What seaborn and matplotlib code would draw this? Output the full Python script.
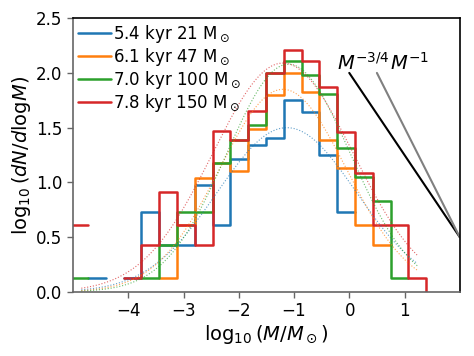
import numpy as np
import pandas as pd
import matplotlib
matplotlib.use("Agg")
import matplotlib.pyplot as plt
import seaborn as sns

# ---- data -------------------------------------------------------------
# bin edges in log10(M/Msun) (bins of ~0.322 dex)
bin_edges = [-5.051, -4.729, -4.407, -4.085, -3.763, -3.441, -3.118, -2.796,
             -2.474, -2.152, -1.830, -1.507, -1.185, -0.863, -0.541, -0.219,
             0.104, 0.426, 0.748, 1.070, 1.393, 1.715]
nan = np.nan
# log10(dN/dlogM) per bin (NaN = empty bin)
blue_vals = [nan, 0.13, nan, 0.13, 0.73, 0.43, 0.43, 0.98, 0.61, 1.21, 1.34,
             1.41, 1.75, 1.64, 1.25, 0.73, nan, nan, nan, nan, nan]
orange_vals = [nan, nan, nan, nan, nan, 0.13, 0.61, 1.04, 1.18, 1.10, 1.49,
               1.80, 2.00, 1.83, 1.39, 1.13, 0.61, 0.43, nan, nan, nan]
green_vals = [0.13, nan, nan, nan, 0.13, 0.43, 0.73, 0.73, 1.18, 1.39, 1.52,
              2.00, 2.11, 1.98, 1.81, 1.31, 1.05, 0.83, 0.13, nan, nan]
red_vals = [0.61, nan, nan, 0.13, 0.43, 0.91, 0.61, 0.43, 1.47, 1.39, 1.65,
            2.00, 2.21, 2.11, 1.87, 1.46, 1.09, 0.61, 0.61, 0.13, -1.0]

labels = [r"5.4 kyr 21 M$_\odot$", r"6.1 kyr 47 M$_\odot$",
          r"7.0 kyr 100 M$_\odot$", r"7.8 kyr 150 M$_\odot$"]

# log-normal fit parameters (amplitude, centre, width) for each snapshot
fit_amp = [1.50, 1.85, 2.08, 2.09]
fit_mu = [-1.13, -1.20, -1.10, -1.20]
fit_sigma = [1.26, 1.15, 1.12, 1.27]
fit_range = [-4.85, 1.23]

# power-law reference slopes
pl_slopes = [-0.75, -1.0]
pl_labels = [r"$M^{-3/4}$", r"$M^{-1}$"]
pl_anchor = (2.0, 0.5)
pl_top = 2.0
pl_colors = ["black", "0.5"]

xticks = [-4, -3, -2, -1, 0, 1]
yticks = [0.0, 0.5, 1.0, 1.5, 2.0, 2.5]

# ---- figure -----------------------------------------------------------
sns.set_theme(style="white", rc={"text.color": "black",
                                 "axes.labelcolor": "black",
                                 "xtick.color": "black",
                                 "ytick.color": "black"})
plt.rcParams["font.family"] = ["DejaVu Sans"]
plt.rcParams["mathtext.fontset"] = "dejavusans"

fig = plt.figure(figsize=(4.74, 3.56), dpi=100)
ax = fig.add_axes([0.154, 0.180, 0.816, 0.769])

colors = sns.color_palette("tab10")[:4]
series = [blue_vals, orange_vals, green_vals, red_vals]
edges = np.array(bin_edges)


def runs(vals):
    v = np.array(vals, dtype=float)
    ok = np.isfinite(v)
    i = 0
    out = []
    while i < len(v):
        if ok[i]:
            j = i
            while j + 1 < len(v) and ok[j + 1]:
                j += 1
            out.append((i, j))
            i = j + 1
        else:
            i += 1
    return out


for vals, col, lab in zip(series, colors, labels):
    first = True
    for (i, j) in runs(vals):
        xs = edges[i:j + 2]
        ys = list(vals[i:j + 1]) + [vals[j]]
        df = pd.DataFrame({"x": xs, "y": ys})
        sns.lineplot(data=df, x="x", y="y", ax=ax, color=col, lw=1.8,
                     drawstyle="steps-post", estimator=None, sort=False,
                     label=lab if first else None, legend=False)
        first = False

# fitted curves
xf = np.linspace(fit_range[0], fit_range[1], 200)
for a, m, s, col in zip(fit_amp, fit_mu, fit_sigma, colors):
    yf = a * np.exp(-(xf - m) ** 2 / (2 * s ** 2))
    sns.lineplot(x=xf, y=yf, ax=ax, color=col, lw=0.8, ls=":", alpha=0.7,
                 estimator=None, sort=False, legend=False)

# power-law guides
for slope, col in zip(pl_slopes, pl_colors):
    x0 = pl_anchor[0] - (pl_top - pl_anchor[1]) / (-slope)
    sns.lineplot(x=[x0, pl_anchor[0]], y=[pl_top, pl_anchor[1]], ax=ax,
                 color=col, lw=1.5, estimator=None, sort=False, legend=False)
ax.text(-0.22, 2.03, pl_labels[0], fontsize=14, ha="left", va="baseline")
ax.text(0.74, 2.03, pl_labels[1], fontsize=14, ha="left", va="baseline")

ax.set_xlim(-5, 2)
ax.set_ylim(0, 2.5)
ax.set_xticks(xticks)
ax.set_yticks(yticks)
ax.set_xticklabels([f"$-{abs(t)}$" if t < 0 else f"${t}$" for t in xticks])
ax.set_yticklabels([f"{t:.1f}" for t in yticks])
ax.tick_params(axis="both", labelsize=12, length=4, width=1, color="0.4",
               labelcolor="black", bottom=True, left=True, direction="out")
ax.set_xlabel(r"$\log_{10}(M/M_\odot)$", fontsize=14, labelpad=2)
ax.set_ylabel(r"$\log_{10}(dN/d\mathrm{log}M)$", fontsize=14, labelpad=2)

for side in ["left", "bottom"]:
    ax.spines[side].set_color("0.4")
    ax.spines[side].set_linewidth(1.2)
for side in ["top", "right"]:
    ax.spines[side].set_color("black")
    ax.spines[side].set_linewidth(1.2)

ax.legend(loc="upper left", frameon=False, fontsize=12, labelspacing=0.05,
          handlelength=2.0, handletextpad=0.1, borderaxespad=0.1,
          borderpad=0.2)

fig.savefig("out.png", dpi=100)
